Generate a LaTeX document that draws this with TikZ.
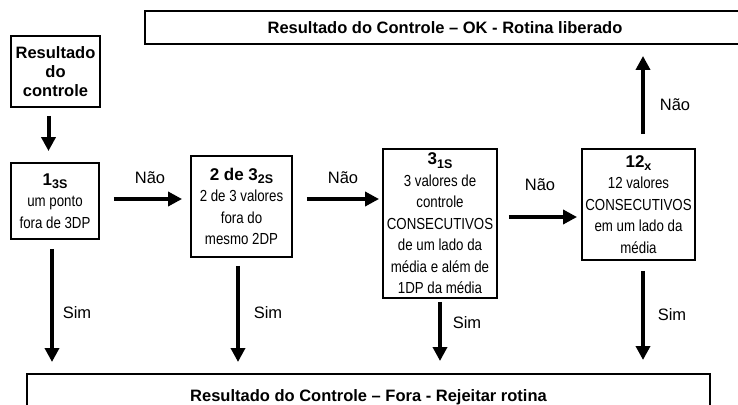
\documentclass[tikz,border=0pt]{standalone}
\usepackage{fontspec}
\setmainfont{Liberation Sans}
\newfontfamily\narrowfont[FakeStretch=0.83]{Liberation Sans}
\usetikzlibrary{arrows.meta,calc}
\newcommand\sbs[1]{\raisebox{-0.35ex}{\fontsize{12.5}{12.5}\selectfont #1}}
\newcommand\hd[1]{{\fontspec{Liberation Sans}\bfseries\fontsize{17}{17}\selectfont #1}}
\tikzset{
  box/.style={draw, line width=1.9pt, align=center, inner sep=2pt},
  body/.style={font=\narrowfont\fontsize{16}{21.5}\selectfont},
  arr/.style={line width=4pt, -{Triangle[width=14pt,length=14pt]}},
  lbl/.style={font=\fontsize{16.5}{18}\selectfont, inner sep=0pt},
}
\begin{document}
\begin{tikzpicture}[x=1pt,y=-1pt]
\useasboundingbox (0,0) rectangle (738,404);

\node[box, minimum width=600pt, minimum height=33pt, font=\bfseries\fontsize{16.5}{18}\selectfont] (ok) at (445,27.5) {Resultado do Controle – OK - Rotina liberado};

\node[box, minimum width=89pt, minimum height=71pt, font=\bfseries\fontsize{16.5}{19}\selectfont] (res) at (55.5,71.5) {Resultado\\do\\controle};

\node[box, body, minimum width=88pt, minimum height=76pt] (b1) at (55,201) {\hd{1\sbs{3S}}\\um ponto\\fora de 3DP};

\node[box, body, minimum width=101pt, minimum height=101pt] (b2) at (241.5,206.5) {\hd{2 de 3\sbs{2S}}\\2 de 3 valores\\fora do\\mesmo 2DP};

\node[box, body, minimum width=114pt, minimum height=149pt] (b3) at (440,223.5) {\hd{3\sbs{1S}}\\3 valores de\\controle\\CONSECUTIVOS\\de um lado da\\média e além de\\1DP da média};

\node[box, body, minimum width=113pt, minimum height=111pt] (b4) at (638.5,204.5) {\hd{12\sbs{x}}\\12 valores\\CONSECUTIVOS\\em um lado da\\média};

\node[box, minimum width=683pt, minimum height=47pt, anchor=north, font=\bfseries\fontsize{16.5}{18}\selectfont] (bot) at (368.5,373) {Resultado do Controle – Fora - Rejeitar rotina};

% rows for horizontal arrows
\coordinate (y1) at (0,199);
\coordinate (y3) at (0,217);

% vertical arrows
\draw[arr, shorten <=8pt, shorten >=11pt] ([xshift=-7pt]res.south) -- ([xshift=-7pt]res.south |- b1.north);
\draw[arr, shorten <=14pt, shorten >=11pt] ([xshift=4.5pt]b4.north) -- ([xshift=4.5pt]b4.north |- ok.south);
\draw[arr, shorten <=9pt, shorten >=11pt] ([xshift=-3pt]b1.south) -- ([xshift=-3pt]b1.south |- bot.north);
\draw[arr, shorten <=8pt, shorten >=11pt] ([xshift=-3.5pt]b2.south) -- ([xshift=-3.5pt]b2.south |- bot.north);
\draw[arr, shorten <=3pt, shorten >=12pt] (b3.south) -- (b3.south |- bot.north);
\draw[arr, shorten <=10pt, shorten >=13pt] ([xshift=4.5pt]b4.south) -- ([xshift=4.5pt]b4.south |- bot.north);

% horizontal arrows
\draw[arr, shorten <=14pt, shorten >=8pt] (b1.east |- y1) -- (b2.west |- y1);
\draw[arr, shorten <=14pt, shorten >=3pt] (b2.east |- y1) -- (b3.west |- y1);
\draw[arr, shorten <=11pt, shorten >=4pt] (b3.east |- y3) -- (b4.west |- y3);

% labels
\node[lbl] (n1) at (150,178) {Não};
\node[lbl] (n2) at (343,178) {Não};
\node[lbl] (n3) at (540,185) {Não};
\node[lbl] (n4) at (675,105) {Não};
\node[lbl] (s1) at (77,313) {Sim};
\node[lbl] (s2) at (268,313) {Sim};
\node[lbl] (s3) at (467,323) {Sim};
\node[lbl] (s4) at (672,315) {Sim};
\end{tikzpicture}
\end{document}
